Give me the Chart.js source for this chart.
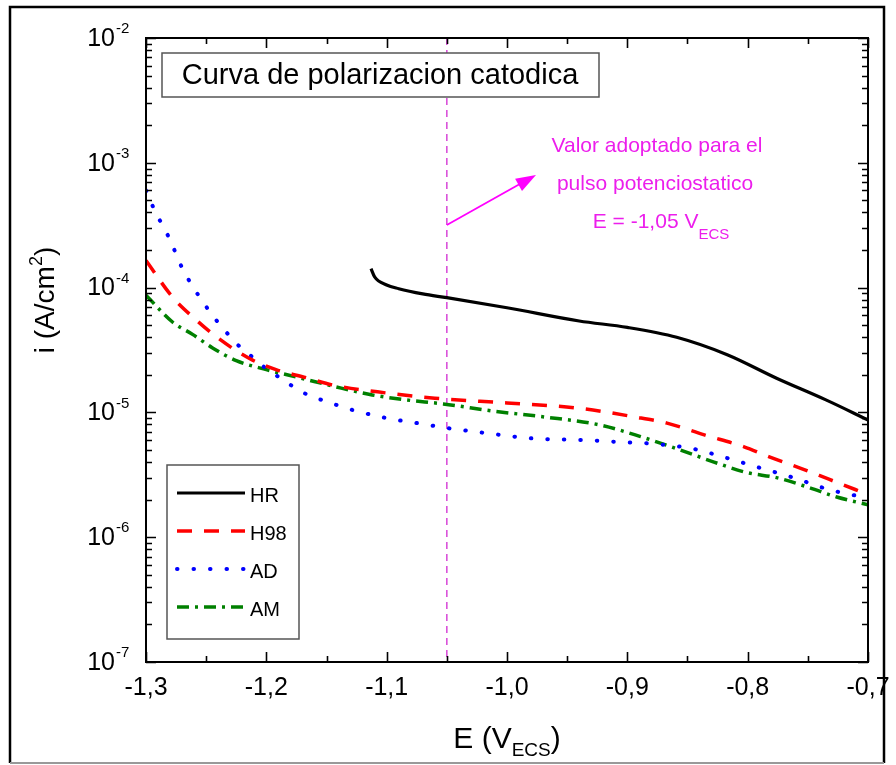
<!DOCTYPE html>
<html>
<head>
<meta charset="utf-8">
<script src="https://cdn.jsdelivr.net/npm/chart.js@4"></script>
<style>
  html, body { margin: 0; padding: 0; background: #fff; }
  canvas { display: block; }
</style>
</head>
<body>
<canvas id="chart" width="896" height="765"></canvas>
<script>
// Potential (V vs ECS) and current density (A/cm2)
const hrE  = [-1.113, -1.11, -1.10, -1.09, -1.07, -1.05, -1.00, -0.94, -0.90, -0.859, -0.817, -0.776, -0.735, -0.70];
const hrI  = [1.42e-4, 1.22e-4, 1.05e-4, 9.8e-5, 8.9e-5, 8.3e-5, 6.9e-5, 5.4e-5, 4.8e-5, 4.0e-5, 2.9e-5, 1.88e-5, 1.26e-5, 8.7e-6];

const h98E = [-1.30, -1.278, -1.261, -1.241, -1.214, -1.192, -1.167, -1.145, -1.10, -1.06, -1.00, -0.94, -0.894, -0.867, -0.836, -0.803, -0.782, -0.757, -0.732, -0.70];
const h98I = [1.65e-4, 8.4e-5, 5.8e-5, 4.0e-5, 2.7e-5, 2.2e-5, 1.9e-5, 1.66e-5, 1.43e-5, 1.3e-5, 1.19e-5, 1.08e-5, 9.2e-6, 8.2e-6, 6.6e-6, 5.3e-6, 4.4e-6, 3.6e-6, 2.9e-6, 2.2e-6];

const adE  = [-1.30, -1.292, -1.285, -1.279, -1.272, -1.261, -1.255, -1.247, -1.235, -1.224, -1.212, -1.199, -1.185, -1.173, -1.158, -1.142, -1.129, -1.10, -1.071, -1.05, -1.016, -0.98, -0.936, -0.908, -0.878, -0.845, -0.817, -0.79, -0.762, -0.732, -0.70];
const adI  = [6.0e-4, 4.0e-4, 3.0e-4, 2.3e-4, 1.58e-4, 1.01e-4, 8.3e-5, 6.4e-5, 4.6e-5, 3.5e-5, 2.8e-5, 2.2e-5, 1.8e-5, 1.5e-5, 1.3e-5, 1.15e-5, 1.05e-5, 9.0e-6, 8.1e-6, 7.5e-6, 6.8e-6, 6.2e-6, 6.0e-6, 5.8e-6, 5.6e-6, 5.1e-6, 4.3e-6, 3.6e-6, 3.0e-6, 2.4e-6, 2.06e-6];

const amE  = [-1.30, -1.278, -1.261, -1.245, -1.225, -1.20, -1.173, -1.142, -1.112, -1.084, -1.053, -1.01, -0.969, -0.922, -0.889, -0.856, -0.828, -0.801, -0.776, -0.749, -0.726, -0.70];
const amI  = [8.7e-5, 5.3e-5, 4.2e-5, 3.3e-5, 2.6e-5, 2.2e-5, 1.9e-5, 1.6e-5, 1.38e-5, 1.26e-5, 1.17e-5, 1.02e-5, 9.2e-6, 7.9e-6, 6.4e-6, 5.0e-6, 4.0e-6, 3.3e-6, 3.0e-6, 2.5e-6, 2.1e-6, 1.82e-6];

const seriesNames = ['HR', 'H98', 'AD', 'AM'];
const xTickValues = [-1.3, -1.2, -1.1, -1.0, -0.9, -0.8, -0.7];
const xTickLabels = ['-1,3', '-1,2', '-1,1', '-1,0', '-0,9', '-0,8', '-0,7'];
const yDecades = [-7, -6, -5, -4, -3, -2];
const adoptedE = -1.05;

const FONT = 'Arial, "Liberation Sans", sans-serif';
const NARROW = '"Liberation Sans Narrow", "Arial Narrow", Arial, sans-serif';
const MAGENTA = 'rgb(236, 30, 236)';

function pts(xs, ys) {
  return xs.map((x, i) => ({ x: x, y: ys[i] }));
}

const styles = [
  { color: '#000000', dash: [], width: 3.2, cap: 'butt' },
  { color: '#ff0000', dash: [15, 12], width: 3.5, cap: 'butt' },
  { color: '#0000ff', dash: [0.5, 16], width: 4, cap: 'round' },
  { color: '#008000', dash: [12, 6, 3, 6], width: 3.5, cap: 'butt' }
];

// Vertical dashed marker at the adopted potential, drawn under the curves
const markerPlugin = {
  id: 'marker',
  beforeDatasetsDraw(chart) {
    const ctx = chart.ctx, a = chart.chartArea;
    const px = chart.scales.x.getPixelForValue(adoptedE);
    ctx.save();
    ctx.strokeStyle = 'rgb(215, 70, 215)';
    ctx.lineWidth = 1.5;
    ctx.setLineDash([7, 5]);
    ctx.beginPath();
    ctx.moveTo(px, a.top);
    ctx.lineTo(px, a.bottom);
    ctx.stroke();
    ctx.restore();
  }
};

// Frame, inward ticks, labels, titles, legend box and annotation
const decorPlugin = {
  id: 'decor',
  beforeDraw(chart) {
    const ctx = chart.ctx;
    ctx.save();
    ctx.fillStyle = '#fff';
    ctx.fillRect(0, 0, chart.width, chart.height);
    ctx.restore();
  },
  afterDraw(chart) {
    const ctx = chart.ctx, a = chart.chartArea;
    const xs = chart.scales.x, ys = chart.scales.y;
    ctx.save();

    // outer picture frame
    ctx.strokeStyle = '#000';
    ctx.lineWidth = 2.5;
    ctx.beginPath();
    ctx.moveTo(10, 763); ctx.lineTo(10, 7); ctx.lineTo(884, 7); ctx.lineTo(884, 763);
    ctx.stroke();
    ctx.strokeStyle = '#999';
    ctx.lineWidth = 2;
    ctx.beginPath();
    ctx.moveTo(10, 763); ctx.lineTo(884, 763);
    ctx.stroke();

    // plot frame
    ctx.strokeStyle = '#000';
    ctx.lineWidth = 2;
    ctx.strokeRect(a.left, a.top, a.right - a.left, a.bottom - a.top);

    // x ticks (bottom and top, inward)
    ctx.lineWidth = 1.6;
    for (let k = 0; k <= 12; k++) {
      const v = -1.3 + k * 0.05;
      const px = Math.round(xs.getPixelForValue(v)) + 0.5;
      const len = k % 2 === 0 ? 10 : 6;
      ctx.beginPath();
      ctx.moveTo(px, a.bottom); ctx.lineTo(px, a.bottom - len);
      ctx.moveTo(px, a.top); ctx.lineTo(px, a.top + len);
      ctx.stroke();
    }
    // y ticks (left and right, inward)
    yDecades.forEach(d => {
      for (let m = 1; m <= 9; m++) {
        if (d === -2 && m > 1) break;
        const py = Math.round(ys.getPixelForValue(m * Math.pow(10, d))) + 0.5;
        const len = m === 1 ? 10 : 6;
        ctx.beginPath();
        ctx.moveTo(a.left, py); ctx.lineTo(a.left + len, py);
        ctx.moveTo(a.right, py); ctx.lineTo(a.right - len, py);
        ctx.stroke();
      }
    });

    // x tick labels
    ctx.fillStyle = '#000';
    ctx.font = '25px ' + NARROW;
    ctx.textAlign = 'center';
    ctx.textBaseline = 'middle';
    xTickValues.forEach((v, i) => {
      ctx.fillText(xTickLabels[i], xs.getPixelForValue(v), a.bottom + 26);
    });

    // y tick labels 10^n
    yDecades.forEach(d => {
      const py = ys.getPixelForValue(Math.pow(10, d));
      ctx.font = '25px ' + NARROW;
      ctx.textAlign = 'right';
      ctx.textBaseline = 'middle';
      ctx.fillText('10', 115, py + 1);
      ctx.font = '15px ' + NARROW;
      ctx.textAlign = 'left';
      ctx.fillText(String(d), 116, py - 9);
    });

    // x axis title: E (V_ECS)
    ctx.textBaseline = 'alphabetic';
    ctx.textAlign = 'left';
    const main = 'E (V';
    ctx.font = '19px ' + FONT;
    const subW = ctx.measureText('ECS').width;
    ctx.font = '30px ' + FONT;
    const mainW = ctx.measureText(main).width;
    const parW = ctx.measureText(')').width;
    let tx = (a.left + a.right) / 2 - (mainW + subW + parW) / 2;
    const tb = 748;
    ctx.fillText(main, tx, tb);
    ctx.font = '19px ' + FONT;
    ctx.fillText('ECS', tx + mainW, tb + 8);
    ctx.font = '30px ' + FONT;
    ctx.fillText(')', tx + mainW + subW, tb);

    // y axis title: i (A/cm2)
    ctx.save();
    ctx.translate(54, 300);
    ctx.rotate(-Math.PI / 2);
    ctx.font = '28px ' + FONT;
    const yMain = 'i (A/cm';
    const yMainW = ctx.measureText(yMain).width;
    ctx.font = '18px ' + FONT;
    const supW = ctx.measureText('2').width;
    ctx.font = '28px ' + FONT;
    const yParW = ctx.measureText(')').width;
    let ty = -(yMainW + supW + yParW) / 2;
    ctx.textAlign = 'left';
    ctx.fillText(yMain, ty, 0);
    ctx.font = '18px ' + FONT;
    ctx.fillText('2', ty + yMainW, -12);
    ctx.font = '28px ' + FONT;
    ctx.fillText(')', ty + yMainW + supW, 0);
    ctx.restore();

    // chart title box
    ctx.fillStyle = '#fff';
    ctx.fillRect(162, 53, 437, 44);
    ctx.strokeStyle = '#555';
    ctx.lineWidth = 1.5;
    ctx.strokeRect(162, 53, 437, 44);
    ctx.fillStyle = '#000';
    ctx.font = '29px ' + FONT;
    ctx.textAlign = 'center';
    ctx.textBaseline = 'middle';
    ctx.fillText('Curva de polarizacion catodica', 380, 76);

    // annotation text
    ctx.fillStyle = MAGENTA;
    ctx.font = '21px ' + FONT;
    ctx.fillText('Valor adoptado para el', 657, 146);
    ctx.fillText('pulso potenciostatico', 655, 184);
    const eTxt = 'E = -1,05 V';
    const eW = ctx.measureText(eTxt).width;
    ctx.font = '15px ' + FONT;
    const ecsW = ctx.measureText('ECS').width;
    let ex = 661 - (eW + ecsW) / 2;
    ctx.textAlign = 'left';
    ctx.font = '21px ' + FONT;
    ctx.fillText(eTxt, ex, 222);
    ctx.font = '15px ' + FONT;
    ctx.fillText('ECS', ex + eW, 235);

    // arrow from the marker line
    const ax0 = xs.getPixelForValue(adoptedE), ay0 = 225, ax1 = 536, ay1 = 175;
    const ang = Math.atan2(ay1 - ay0, ax1 - ax0);
    ctx.strokeStyle = '#ff00ff';
    ctx.fillStyle = '#ff00ff';
    ctx.lineWidth = 1.8;
    ctx.beginPath();
    ctx.moveTo(ax0, ay0);
    ctx.lineTo(ax1 - 16 * Math.cos(ang), ay1 - 16 * Math.sin(ang));
    ctx.stroke();
    ctx.beginPath();
    ctx.moveTo(ax1, ay1);
    ctx.lineTo(ax1 - 20 * Math.cos(ang) + 7 * Math.sin(ang), ay1 - 20 * Math.sin(ang) - 7 * Math.cos(ang));
    ctx.lineTo(ax1 - 20 * Math.cos(ang) - 7 * Math.sin(ang), ay1 - 20 * Math.sin(ang) + 7 * Math.cos(ang));
    ctx.closePath();
    ctx.fill();

    // legend box
    ctx.fillStyle = '#fff';
    ctx.fillRect(167, 465, 132, 174);
    ctx.strokeStyle = '#555';
    ctx.lineWidth = 1.5;
    ctx.strokeRect(167, 465, 132, 174);
    seriesNames.forEach((name, i) => {
      const st = styles[i];
      const ly = 493 + i * 38;
      ctx.strokeStyle = st.color;
      ctx.lineWidth = st.width;
      ctx.lineCap = st.cap;
      ctx.setLineDash(st.dash);
      ctx.beginPath();
      ctx.moveTo(177, ly);
      ctx.lineTo(245, ly);
      ctx.stroke();
      ctx.setLineDash([]);
      ctx.lineCap = 'butt';
      ctx.fillStyle = '#000';
      ctx.font = '20px ' + FONT;
      ctx.textAlign = 'left';
      ctx.textBaseline = 'middle';
      ctx.fillText(name, 250, ly + 3);
    });

    ctx.restore();
  }
};

const allE = [hrE, h98E, adE, amE];
const allI = [hrI, h98I, adI, amI];

new Chart(document.getElementById('chart'), {
  type: 'line',
  data: {
    datasets: seriesNames.map((name, i) => ({
      label: name,
      data: pts(allE[i], allI[i]),
      borderColor: styles[i].color,
      borderWidth: styles[i].width,
      borderDash: styles[i].dash,
      borderCapStyle: styles[i].cap,
      pointRadius: 0,
      fill: false,
      cubicInterpolationMode: 'monotone'
    }))
  },
  options: {
    responsive: false,
    animation: false,
    events: [],
    layout: { padding: { left: 146, right: 28, top: 38, bottom: 103 } },
    scales: {
      x: { type: 'linear', min: -1.3, max: -0.7, display: false },
      y: { type: 'logarithmic', min: 1e-7, max: 1e-2, display: false }
    },
    plugins: {
      legend: { display: false },
      tooltip: { enabled: false }
    }
  },
  plugins: [markerPlugin, decorPlugin]
});
</script>
</body>
</html>
